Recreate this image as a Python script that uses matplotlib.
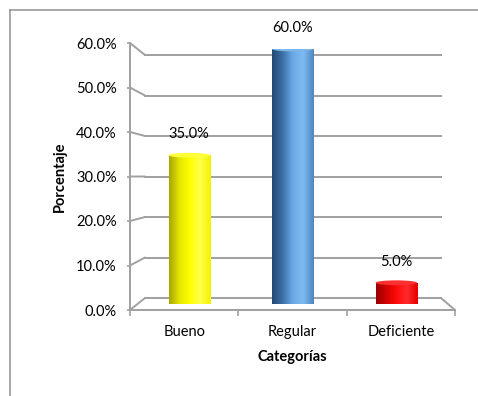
import numpy as np
import matplotlib
matplotlib.use("Agg")
import matplotlib.pyplot as plt
from matplotlib.patches import Ellipse, ConnectionPatch
from matplotlib.lines import Line2D
from matplotlib.colors import LinearSegmentedColormap
from matplotlib.ticker import FuncFormatter

categorias = ["Bueno", "Regular", "Deficiente"]
porcentajes = [0.35, 0.60, 0.05]
y_ticks = [0.0, 0.1, 0.2, 0.3, 0.4, 0.5, 0.6]

# colores de cada cilindro (borde oscuro -> brillo -> lado derecho)
gradientes = [
    ["#a8a800", "#e6e600", "#ffff00", "#ffff4d", "#f2f200"],
    ["#234a75", "#3d6fa6", "#6aaae6", "#7fbcf2", "#4f86c0"],
    ["#9a0000", "#d40000", "#ff0d0d", "#ff2a2a", "#e60000"],
]
tapas = ["#ffff3a", "#7db6ea", "#ff3030"]

W, H = 478, 396
plt.rcParams['font.family'] = ['Lato', 'DejaVu Sans']
grid_c = "#a0a0a0"
fs = 10.5

fig = plt.figure(figsize=(W / 100, H / 100), dpi=100)


def box(x0, ytop, x1, ybot):
    # pixel box (origen arriba-izquierda) -> fraccion de figura
    return [x0 / W, 1 - ybot / H, (x1 - x0) / W, (ybot - ytop) / H]


# pared del fondo, plano frontal y plano de las barras
ax_back = fig.add_axes(box(145, 55, 441, 298))
ax_front = fig.add_axes(box(130, 43, 455, 310))
ax_bar = fig.add_axes(box(137.5, 49, 448, 304))

for a in (ax_back, ax_front, ax_bar):
    a.set_xlim(-0.5, 2.5)
    a.set_ylim(0, 0.6)
    a.patch.set_alpha(0)

ax_back.axis("off")
ax_bar.axis("off")

# lineas de la pared del fondo
for v in y_ticks:
    ax_back.plot([-0.5, 2.5], [v, v], color=grid_c, lw=1.4, clip_on=False)
    con = ConnectionPatch((-0.5, v), (-0.5, v), coordsA=ax_front.transData,
                          coordsB=ax_back.transData, color=grid_c, lw=1.4)
    fig.add_artist(con)
fig.add_artist(ConnectionPatch((2.5, 0), (2.5, 0), coordsA=ax_front.transData,
                               coordsB=ax_back.transData, color=grid_c, lw=1.4))

# ejes del frente
for s in ("top", "right"):
    ax_front.spines[s].set_visible(False)
for s in ("left", "bottom"):
    ax_front.spines[s].set_color(grid_c)
    ax_front.spines[s].set_linewidth(1.4)
ax_front.set_yticks(y_ticks)
ax_front.yaxis.set_major_formatter(FuncFormatter(lambda v, p: f"{v:.1%}"))
ax_front.tick_params(axis="y", length=2.5, width=1.2, color=grid_c, pad=7,
                     labelsize=fs)
ax_front.set_xticks([-0.5, 0.5, 1.5, 2.5])
ax_front.set_xticklabels([])
ax_front.set_xticks([0, 1, 2], minor=True)
ax_front.set_xticklabels(categorias, minor=True)
ax_front.tick_params(axis="x", which="major", length=4, width=1.2, color=grid_c)
ax_front.tick_params(axis="x", which="minor", length=0, pad=10.5, labelsize=fs)

# cilindros
fig.canvas.draw()
px_per_unit = ax_bar.bbox.height / 0.6
ell_h = 6 / px_per_unit
ancho = 0.40
bars = ax_bar.bar(range(len(porcentajes)), porcentajes, width=ancho,
                  color="none", edgecolor="none")
for i, (b, v) in enumerate(zip(bars, porcentajes)):
    cmap = LinearSegmentedColormap.from_list(f"c{i}", gradientes[i])
    grad = np.linspace(0, 1, 64).reshape(1, -1)
    x0 = b.get_x()
    ext = (x0, x0 + ancho, -ell_h, v)
    im = ax_bar.imshow(grad, cmap=cmap, extent=ext, aspect="auto",
                       interpolation="bilinear", zorder=2)
    im.set_clip_path(b)
    base = Ellipse((i, 0), ancho, ell_h, facecolor="none", edgecolor="none")
    ax_bar.add_patch(base)
    im2 = ax_bar.imshow(grad, cmap=cmap, extent=ext, aspect="auto",
                        interpolation="bilinear", zorder=2)
    im2.set_clip_path(base)
    ax_bar.add_patch(Ellipse((i, v), ancho, ell_h * 0.8, facecolor=tapas[i],
                             edgecolor="none", zorder=3))
    ax_bar.annotate(f"{v:.1%}", (i, v), xytext=(0, 15), textcoords="offset points",
                    ha="center", va="center", fontsize=fs, annotation_clip=False)
ax_bar.set_ylim(0, 0.6)
ax_bar.set_xlim(-0.5, 2.5)

# titulos de ejes
fig.text(60 / W, 1 - 177 / H, "Porcentaje", rotation=90, ha="center",
         va="center", fontsize=fs, fontweight="bold")
fig.text(292 / W, 1 - 357 / H, "Categorías", ha="center", va="center",
         fontsize=fs, fontweight="bold")

# marco del grafico
fig.add_artist(Line2D([10 / W, 10 / W], [0, 1 - 10 / H], color="#9a9a9a", lw=1.2))
fig.add_artist(Line2D([10 / W, 1], [1 - 10 / H, 1 - 10 / H], color="#9a9a9a", lw=1.2))

fig.savefig("out.png", dpi=100)
